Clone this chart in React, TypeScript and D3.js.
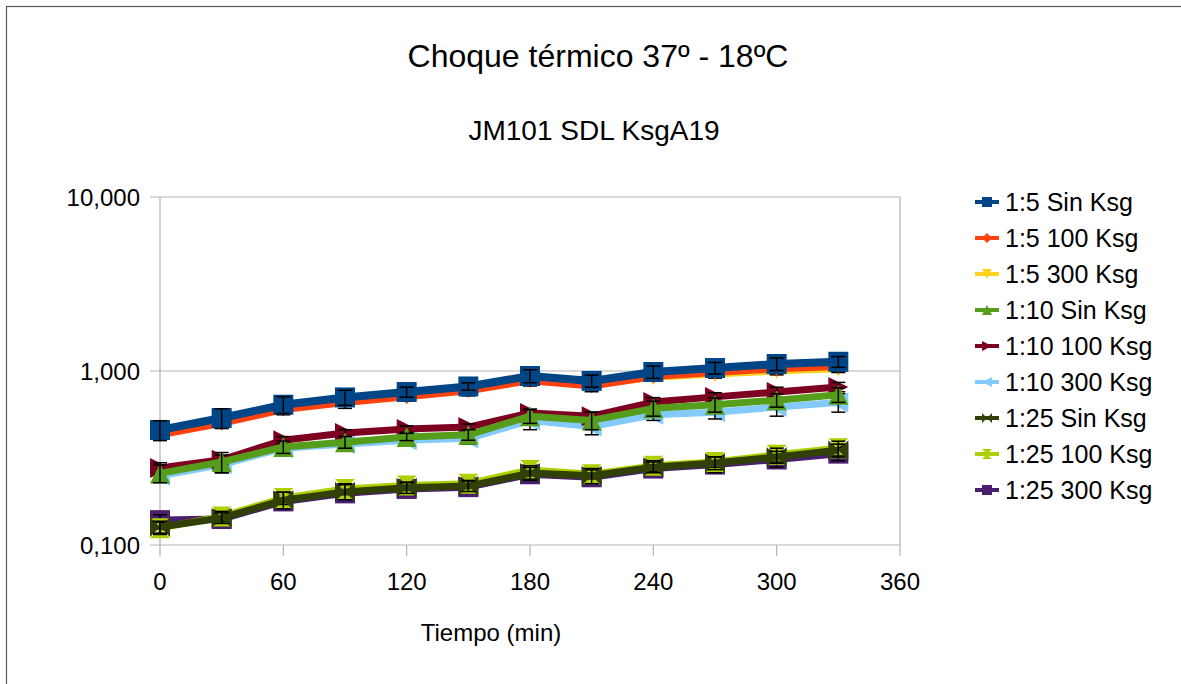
import React from "react";
import * as d3 from "d3";

const times = [0, 30, 60, 90, 120, 150, 180, 210, 240, 270, 300, 330];
const seriesNames = [
  "1:5 Sin Ksg", "1:5 100 Ksg", "1:5 300 Ksg",
  "1:10 Sin Ksg", "1:10 100 Ksg", "1:10 300 Ksg",
  "1:25 Sin Ksg", "1:25 100 Ksg", "1:25 300 Ksg",
];
const colors = ["#004586", "#ff420e", "#ffd320", "#579d1c", "#7e0021", "#83caff", "#314004", "#aecf00", "#4b1f6f"];
const markers = ["square", "diamond", "down", "up", "right", "left", "bowtie", "hourglass", "square"];

const s15Sin = [0.458, 0.537, 0.640, 0.705, 0.757, 0.815, 0.936, 0.877, 0.987, 1.040, 1.097, 1.130];
const s15_100 = [0.430, 0.500, 0.600, 0.660, 0.710, 0.770, 0.880, 0.820, 0.930, 0.980, 1.030, 1.060];
const s15_300 = [0.440, 0.510, 0.610, 0.670, 0.720, 0.780, 0.890, 0.830, 0.920, 0.960, 1.000, 1.030];
const s110Sin = [0.258, 0.300, 0.366, 0.390, 0.418, 0.430, 0.550, 0.520, 0.610, 0.640, 0.680, 0.730];
const s110_100 = [0.277, 0.309, 0.400, 0.440, 0.464, 0.476, 0.574, 0.550, 0.663, 0.710, 0.757, 0.810];
const s110_300 = [0.250, 0.290, 0.360, 0.380, 0.400, 0.410, 0.520, 0.480, 0.560, 0.580, 0.620, 0.660];
const s125Sin = [0.127, 0.143, 0.181, 0.202, 0.213, 0.218, 0.259, 0.250, 0.280, 0.296, 0.320, 0.350];
const s125_100 = [0.125, 0.146, 0.186, 0.210, 0.220, 0.225, 0.270, 0.255, 0.285, 0.300, 0.330, 0.360];
const s125_300 = [0.139, 0.141, 0.178, 0.198, 0.210, 0.215, 0.255, 0.245, 0.275, 0.290, 0.310, 0.335];

const e15Sin = [0.06, 0.07, 0.07, 0.07, 0.05, 0.04, 0.08, 0.07, 0.08, 0.08, 0.09, 0.08];
const e15_100 = [0.03, 0.03, 0.04, 0.05, 0.04, 0.05, 0.06, 0.06, 0.05, 0.06, 0.06, 0.07];
const e15_300 = [0.02, 0.02, 0.03, 0.03, 0.03, 0.03, 0.04, 0.04, 0.04, 0.05, 0.05, 0.05];
const e110Sin = [0.03, 0.04, 0.03, 0.03, 0.02, 0.03, 0.05, 0.06, 0.06, 0.06, 0.06, 0.07];
const e110_100 = [0.02, 0.02, 0.02, 0.02, 0.02, 0.02, 0.03, 0.03, 0.04, 0.04, 0.05, 0.05];
const e110_300 = [0.02, 0.03, 0.02, 0.02, 0.03, 0.03, 0.06, 0.05, 0.04, 0.05, 0.07, 0.08];
const e125Sin = [0.01, 0.01, 0.02, 0.02, 0.015, 0.015, 0.02, 0.025, 0.02, 0.025, 0.025, 0.03];
const e125_100 = [0.01, 0.01, 0.015, 0.015, 0.01, 0.01, 0.015, 0.015, 0.02, 0.02, 0.03, 0.035];
const e125_300 = [0.01, 0.01, 0.01, 0.01, 0.01, 0.01, 0.02, 0.02, 0.02, 0.03, 0.03, 0.03];

const values = [s15Sin, s15_100, s15_300, s110Sin, s110_100, s110_300, s125Sin, s125_100, s125_300];
const errors = [e15Sin, e15_100, e15_300, e110Sin, e110_100, e110_300, e125Sin, e125_100, e125_300];

const xTicks = [0, 60, 120, 180, 240, 300, 360];
const yTicks = [0.1, 1, 10];
const yTickLabels = ["0,100", "1,000", "10,000"];

const FONT = "'Liberation Sans', Arial, sans-serif";

function markerPath(kind: string, s: number): string {
  const h = s / 2;
  switch (kind) {
    case "square":
      return `M${-h},${-h}H${h}V${h}H${-h}Z`;
    case "diamond":
      return `M0,${-h}L${h},0L0,${h}L${-h},0Z`;
    case "down":
      return `M${-h},${-h}H${h}L0,${h}Z`;
    case "up":
      return `M${-h},${h}H${h}L0,${-h}Z`;
    case "right":
      return `M${-h},${-h}L${h},0L${-h},${h}Z`;
    case "left":
      return `M${h},${-h}L${-h},0L${h},${h}Z`;
    case "bowtie":
      return `M${-h},${-h}L0,0L${-h},${h}Z M${h},${-h}L0,0L${h},${h}Z`;
    case "hourglass":
      return `M${-h},${-h}H${h}L0,0Z M${-h},${h}H${h}L0,0Z`;
    default:
      return "";
  }
}

const markerSizes = [20, 14, 16, 20, 20, 20, 20, 20, 20];

export default function App() {
  const W = 1181, H = 684;
  const left = 160, right = 900, top = 197, bottom = 545;
  const x = d3.scaleLinear().domain([0, 360]).range([left, right]);
  const y = d3.scaleLog().domain([0.1, 10]).range([bottom, top]);
  const line = d3.line<number>().x((_, i) => x(times[i])).y((v) => y(v));

  const order = d3.range(seriesNames.length).reverse();

  return (
    <svg width={W} height={H} style={{ position: "absolute", left: 0, top: 0 }} fontFamily={FONT}>
      <rect x={0} y={0} width={W} height={H} fill="#fff" />
      <rect x={6.5} y={6.5} width={W + 10} height={H + 10} fill="none" stroke="#5a5a5a" strokeWidth={1.2} />
      <text x={598} y={67} fontSize={32} textAnchor="middle" fill="#000">Choque térmico 37º - 18ºC</text>
      <text x={594} y={140} fontSize={28} textAnchor="middle" fill="#000">JM101 SDL KsgA19</text>

      {/* grid */}
      {yTicks.map((t, i) => (
        <g key={"yt" + i}>
          <line x1={left - 10} x2={right} y1={y(t)} y2={y(t)} stroke="#b3b3b3" strokeWidth={1.2} />
          <text x={140} y={y(t) + 8.5} fontSize={24} textAnchor="end" fill="#000">{yTickLabels[i]}</text>
        </g>
      ))}
      <line x1={left} x2={left} y1={top} y2={bottom} stroke="#b3b3b3" strokeWidth={1.2} />
      <line x1={right} x2={right} y1={top} y2={bottom} stroke="#b3b3b3" strokeWidth={1.2} />
      {xTicks.map((t, i) => (
        <g key={"xt" + i}>
          <line x1={x(t)} x2={x(t)} y1={bottom} y2={bottom + 11} stroke="#b3b3b3" strokeWidth={1.2} />
          <text x={x(t)} y={590} fontSize={24} textAnchor="middle" fill="#000">{t}</text>
        </g>
      ))}
      <text x={491} y={641} fontSize={24} textAnchor="middle" fill="#000">Tiempo (min)</text>

      {/* series */}
      {order.map((si) => (
        <g key={"s" + si}>
          <path d={line(values[si]) || ""} fill="none" stroke={colors[si]} strokeWidth={si === 0 ? 8 : 7} strokeLinejoin="round" />
          {values[si].map((v, i) => (
            <path key={i} d={markerPath(markers[si], markerSizes[si])} transform={`translate(${x(times[i])},${y(v)})`} fill={colors[si]} />
          ))}
          {values[si].map((v, i) => {
            const e = errors[si][i];
            const cx = x(times[i]);
            const y1 = y(v + e), y2 = y(Math.max(v - e, 0.01));
            return (
              <g key={"e" + i} stroke="#000" strokeWidth={1.5}>
                <line x1={cx} x2={cx} y1={y1} y2={y2} />
                <line x1={cx - 7} x2={cx + 7} y1={y1} y2={y1} />
                <line x1={cx - 7} x2={cx + 7} y1={y2} y2={y2} />
              </g>
            );
          })}
        </g>
      ))}

      {/* legend */}
      {seriesNames.map((n, i) => {
        const cy = 202 + i * 36;
        return (
          <g key={"l" + i}>
            <line x1={975} x2={999} y1={cy} y2={cy} stroke={colors[i]} strokeWidth={4} />
            <path d={markerPath(markers[i], 10)} transform={`translate(987,${cy})`} fill={colors[i]} />
            <text x={1005} y={cy + 9} fontSize={25} fill="#000">{n}</text>
          </g>
        );
      })}
    </svg>
  );
}
